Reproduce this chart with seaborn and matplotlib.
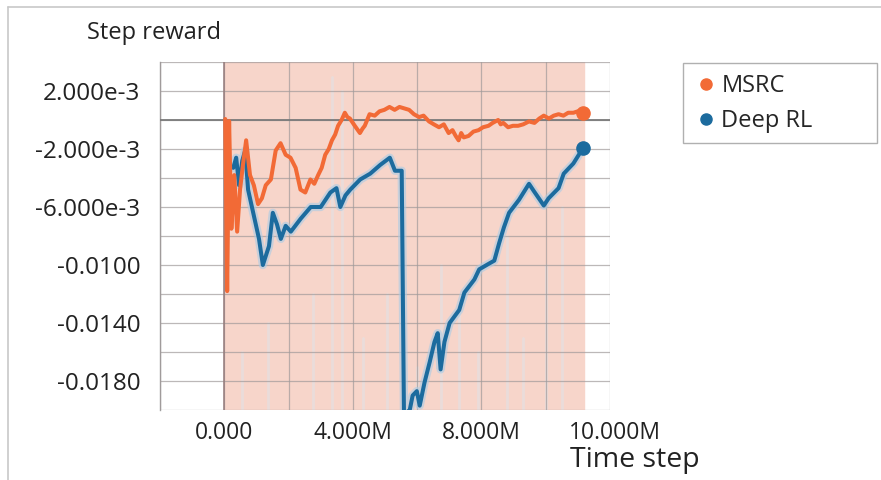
import matplotlib
matplotlib.use("Agg")
import matplotlib.pyplot as plt
import matplotlib.transforms as mtransforms
from matplotlib.lines import Line2D
from matplotlib.patches import Rectangle
import numpy as np
import pandas as pd
import seaborn as sns

# smoothed step reward, x in millions of time steps
msrc_step = [0.03, 0.09, 0.15, 0.22, 0.31, 0.40, 0.49, 0.58, 0.68, 0.80, 0.92, 1.05, 1.17,
             1.29, 1.45, 1.60, 1.75, 1.91, 2.06, 2.22, 2.37, 2.52, 2.68, 2.80, 2.92, 3.03,
             3.14, 3.25, 3.35, 3.45, 3.54, 3.65, 3.75, 3.83, 3.91, 4.06, 4.22, 4.30, 4.37,
             4.52, 4.68, 4.83, 4.98, 5.14, 5.30, 5.45, 5.60, 5.75, 5.90, 6.06, 6.20, 6.37,
             6.52, 6.68, 6.83, 6.98, 7.10, 7.20, 7.29, 7.37, 7.45, 7.60, 7.75, 7.91, 8.05,
             8.22, 8.35, 8.52, 8.60, 8.68, 8.83, 8.98, 9.14, 9.30, 9.48, 9.65, 9.80, 9.94,
             10.10, 10.25, 10.40, 10.55, 10.70, 10.86, 11.00, 11.17]
msrc_reward = [0.00007, -0.0118, -0.00007, -0.0075, -0.0038, -0.0077, -0.0048, -0.0031,
               -0.0014, -0.0038, -0.0045, -0.0058, -0.0054, -0.0045, -0.0041, -0.0021,
               -0.0016, -0.0024, -0.0026, -0.0033, -0.0048, -0.0050, -0.0041, -0.0044,
               -0.0038, -0.0033, -0.0024, -0.0020, -0.0014, -0.0010, -0.0004, 0.0000,
               0.0005, 0.0002, 0.0001, -0.0004, -0.0009, -0.0006, -0.0004, 0.0004,
               0.0003, 0.0006, 0.0007, 0.0009, 0.0007, 0.0009, 0.0008, 0.0007, 0.0004,
               0.0002, 0.0003, -0.0001, -0.0003, -0.0005, -0.0003, -0.0009, -0.0007,
               -0.0011, -0.0014, -0.0009, -0.0012, -0.0011, -0.0008, -0.0007, -0.0005,
               -0.0004, -0.0002, 0.0000, -0.0003, -0.0002, -0.0005, -0.0004, -0.0004,
               -0.0003, -0.0001, -0.0002, 0.0001, 0.0003, 0.0001, 0.0003, 0.0004, 0.0003,
               0.0005, 0.0005, 0.0006, 0.0005]

rl_step = [0.28, 0.37, 0.46, 0.56, 0.65, 0.74, 0.90, 1.08, 1.20, 1.39, 1.51, 1.64, 1.76,
           1.91, 2.07, 2.38, 2.69, 3.00, 3.30, 3.49, 3.61, 3.77, 3.92, 4.23, 4.54, 4.85,
           5.15, 5.31, 5.52, 5.59, 5.77, 5.86, 5.99, 6.08, 6.23, 6.39, 6.54, 6.64, 6.73,
           6.85, 7.01, 7.31, 7.47, 7.78, 7.93, 8.24, 8.40, 8.55, 8.70, 8.86, 9.17, 9.48,
           9.63, 9.94, 10.09, 10.40, 10.56, 10.86, 11.17]
rl_reward = [-0.0033, -0.0026, -0.0045, -0.0028, -0.0021, -0.0048, -0.0064, -0.0082,
             -0.0100, -0.0087, -0.0064, -0.0072, -0.0082, -0.0073, -0.0077, -0.0068,
             -0.0060, -0.0060, -0.0050, -0.0047, -0.0060, -0.0052, -0.0048, -0.0041,
             -0.0037, -0.0031, -0.0026, -0.0035, -0.0035, -0.0203, -0.0200, -0.0190,
             -0.0187, -0.0197, -0.0181, -0.0167, -0.0153, -0.0147, -0.0172, -0.0153,
             -0.0140, -0.0131, -0.0119, -0.0110, -0.0103, -0.0099, -0.0097, -0.0085,
             -0.0074, -0.0064, -0.0055, -0.0044, -0.0049, -0.0059, -0.0054, -0.0047,
             -0.0037, -0.0030, -0.0019]

# faint raw-value streaks behind the smoothed curves (x in M, top reached)
raw_step = [0.55, 1.35, 2.75, 3.35, 3.65, 4.3, 5.05, 6.0, 6.75, 7.3, 7.9, 8.8, 9.3, 10.0, 10.5]
raw_top = [-0.0160, -0.0140, -0.0120, 0.0030, 0.0020, -0.0150, -0.0120, -0.0170, -0.0100,
           -0.0130, -0.0160, -0.0080, -0.0150, -0.0100, -0.0060]

y_ticks = [0.002, -0.002, -0.006, -0.010, -0.014, -0.018]
y_labels = ["2.000e-3", "-2.000e-3", "-6.000e-3", "-0.0100", "-0.0140", "-0.0180"]
x_ticks = [0, 4e6, 8e6, 10e6]
x_labels = ["0.000", "4.000M", "8.000M", "10.000M"]

orange = "#f26a36"
blue = "#1c6b9e"

sns.set_style("white")
plt.rcParams['font.family'] = ['Open Sans', 'DejaVu Sans']

df_msrc = pd.DataFrame({"step": np.array(msrc_step) * 1e6, "reward": msrc_reward})
df_rl = pd.DataFrame({"step": np.array(rl_step) * 1e6, "reward": rl_reward})

fig = plt.figure(figsize=(8.81, 4.8), dpi=100)
ax = fig.add_axes([160 / 881, 1 - 410 / 480, 450 / 881, 348 / 480])

ax.axvspan(0, 11.2e6, color="#f7d5ca", zorder=0)
for s, t in zip(raw_step, raw_top):
    ax.plot([s * 1e6, s * 1e6], [-0.021, t], color="#dbe6ee", lw=2, alpha=0.45, zorder=0.5)

ax.set_xlim(-1.95e6, 11.9e6)
ax.set_ylim(-0.020, 0.004)
ax.set_xticks(np.arange(-2e6, 12.1e6, 2e6), minor=True)
ax.set_yticks(np.arange(-0.020, 0.0041, 0.002), minor=True)
ax.set_yticks(y_ticks)
ax.set_yticklabels(y_labels)
ax.set_xticks(x_ticks)
ax.set_xticklabels(x_labels)
ax.grid(which="both", color="#a09a9a", lw=0.9, alpha=0.7)
ax.set_axisbelow(False)
ax.axhline(0, color="#7a7a7a", lw=1.3, zorder=2.6)
ax.axvline(0, color="#967c7c", lw=1.1, zorder=2.6)

sns.lineplot(data=df_rl, x="step", y="reward", ax=ax, color="#a9cbe5", lw=6,
             alpha=0.6, zorder=3, estimator=None, sort=False)
sns.lineplot(data=df_rl, x="step", y="reward", ax=ax, color=blue, lw=2.9,
             zorder=4, estimator=None, sort=False)
sns.lineplot(data=df_msrc, x="step", y="reward", ax=ax, color=orange, lw=2.9,
             zorder=5, estimator=None, sort=False)
ax.plot(df_msrc["step"].iloc[-1], df_msrc["reward"].iloc[-1], "o", color=orange, ms=9.5, zorder=6)
ax.plot(df_rl["step"].iloc[-1], df_rl["reward"].iloc[-1], "o", color=blue, ms=9.5, zorder=6)

ax.tick_params(axis="y", which="both", length=5, color="#a0a0a0", pad=9,
               labelsize=17.5, labelcolor="#222222")
ax.tick_params(axis="x", which="both", length=0, pad=8, labelsize=16.5, labelcolor="#222222")
lab = ax.get_xticklabels()[-1]
lab.set_transform(lab.get_transform() + mtransforms.ScaledTranslation(0.69, 0, fig.dpi_scale_trans))
ax.set_xlabel("")
ax.set_ylabel("")

for side in ["top", "right", "bottom"]:
    ax.spines[side].set_visible(False)
ax.spines["left"].set_color("#a0a0a0")
ax.spines["left"].set_linewidth(1.0)

fig.text(87 / 881, 1 - 33 / 480, "Step reward", fontsize=17, color="#222222", va="center")
fig.text(570 / 881, 1 - 460 / 480, "Time step", fontsize=20.5, color="#222222", va="center")

handles = [Line2D([], [], marker="o", ls="", color=orange, ms=8),
           Line2D([], [], marker="o", ls="", color=blue, ms=8)]
fig.legend(handles, ["MSRC", "Deep RL"], loc="upper left",
           bbox_to_anchor=(680 / 881, 1 - 60 / 480), fontsize=17,
           frameon=False, handletextpad=0.15, handlelength=1.0,
           borderpad=0.1, labelspacing=0.45)
fig.add_artist(Rectangle((683 / 881, 1 - 143 / 480), 194 / 881, 80 / 480,
                         transform=fig.transFigure, fill=False, ec="#b0b0b0", lw=1.0))

fig.add_artist(Line2D([8 / 881, 1], [1 - 7 / 480, 1 - 7 / 480], color="#c8c8c8", lw=1.2))
fig.add_artist(Line2D([8 / 881, 8 / 881], [0, 1 - 7 / 480], color="#c8c8c8", lw=1.2))

fig.savefig("out.png", dpi=100)
